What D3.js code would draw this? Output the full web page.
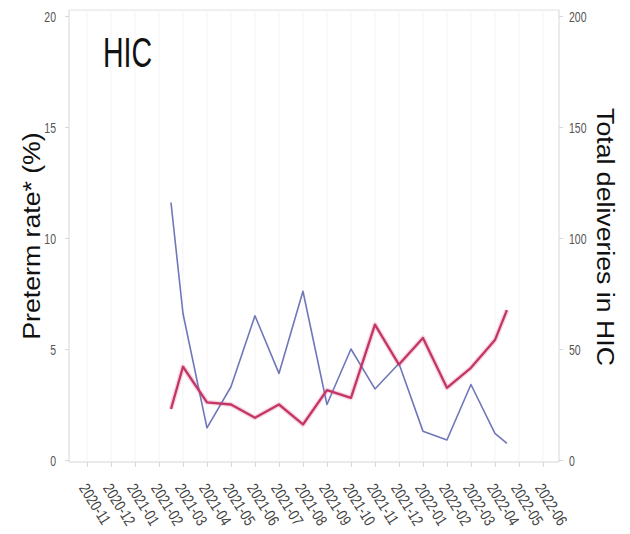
<!DOCTYPE html>
<html><head><meta charset="utf-8">
<script src="https://cdn.jsdelivr.net/npm/d3@7"></script>
<style>body{margin:0;background:#fff}svg{display:block}</style>
</head><body>
<script>
const months = ["2020-11","2020-12","2021-01","2021-02","2021-03","2021-04","2021-05","2021-06","2021-07","2021-08","2021-09","2021-10","2021-11","2021-12","2022-01","2022-02","2022-03","2022-04","2022-05","2022-06"];
// positions in month-index units (first/last points fall half-way between months)
const pointPos = [3.5,4,5,6,7,8,9,10,11,12,13,14,15,16,17,17.5];
const pretermRate = [2.3,4.2,2.6,2.5,1.9,2.5,1.6,3.15,2.8,6.1,4.3,5.5,3.25,4.15,5.4,6.75];
const deliveries = [116,66,14.5,33,65,39,76,25,50,32,43.5,13,9,34,12,7.5];
const leftTicks = [0,5,10,15,20];
const rightTicks = [0,50,100,150,200];

const W=630,H=534;
const svg=d3.select("body").append("svg").attr("width",W).attr("height",H);
const L=69,R=559,T=10,B=462;
const x=d3.scaleLinear().domain([-0.75,19.67]).range([L,R]);
const yL=d3.scaleLinear().domain([0,20]).range([460,16]);
const yR=d3.scaleLinear().domain([0,200]).range([460,16]);

const faint="#d6d6dc";
const font="'Liberation Sans',Arial,sans-serif";
// faint vertical guides
svg.append("g").selectAll("line").data(months).join("line")
  .attr("x1",(d,i)=>x(i)).attr("x2",(d,i)=>x(i)).attr("y1",T).attr("y2",B)
  .attr("stroke","#f4f4f8").attr("stroke-width",1);

// frame
svg.append("line").attr("x1",L).attr("x2",R).attr("y1",T).attr("y2",T).attr("stroke","#e2e2e2");
svg.append("line").attr("x1",L).attr("x2",L).attr("y1",T).attr("y2",B).attr("stroke",faint);
svg.append("line").attr("x1",R).attr("x2",R).attr("y1",T).attr("y2",B).attr("stroke",faint);
svg.append("line").attr("x1",L).attr("x2",R).attr("y1",B).attr("y2",B).attr("stroke",faint);

// left axis
const gl=svg.append("g").attr("transform",`translate(${L},0)`)
  .call(d3.axisLeft(yL).tickValues(leftTicks).tickSize(4));
gl.select(".domain").remove();
gl.selectAll(".tick line").attr("stroke",faint);
gl.selectAll("text").attr("fill","#555").style("font-family",font).style("font-size","15px")
  .attr("x",0).attr("dy","0.36em").attr("transform","translate(-13,0) scale(0.7,1)");
// right axis
const gr=svg.append("g").attr("transform",`translate(${R},0)`)
  .call(d3.axisRight(yR).tickValues(rightTicks).tickSize(4));
gr.select(".domain").remove();
gr.selectAll(".tick line").attr("stroke",faint);
gr.selectAll("text").attr("fill","#555").style("font-family",font).style("font-size","15px")
  .attr("x",0).attr("dy","0.36em").attr("transform","translate(10,0) scale(0.7,1)");
// bottom axis
const gb=svg.append("g").attr("transform",`translate(0,${B})`)
  .call(d3.axisBottom(x).tickValues(d3.range(months.length)).tickFormat(i=>months[i]).tickSize(5));
gb.select(".domain").remove();
gb.selectAll(".tick line").attr("stroke",faint);
gb.selectAll("text").attr("fill","#444").style("font-family",font).style("font-size","16px")
  .attr("text-anchor","start").attr("x",0).attr("y",0).attr("dy","0")
  .attr("transform","translate(-9,26) rotate(58) scale(0.78,1)");

// lines
const lineR=d3.line().x((d,i)=>x(pointPos[i])).y(d=>yL(d));
const lineB=d3.line().x((d,i)=>x(pointPos[i])).y(d=>yR(d));
svg.append("path").datum(pretermRate).attr("d",lineR).attr("fill","none")
  .attr("stroke","#eaa6bf").attr("stroke-width",5).attr("stroke-opacity",0.45).attr("stroke-linejoin","round");
svg.append("path").datum(deliveries).attr("d",lineB).attr("fill","none")
  .attr("stroke","#7077b9").attr("stroke-width",1.6).attr("stroke-linejoin","round");
svg.append("path").datum(pretermRate).attr("d",lineR).attr("fill","none")
  .attr("stroke","#c43565").attr("stroke-width",2.3).attr("stroke-linejoin","round");

// titles
svg.append("text").attr("transform","translate(103,67) scale(0.68,1)").text("HIC")
  .style("font-family",font).style("font-size","42px").attr("fill","#111");
svg.append("text").attr("transform","translate(40,236) rotate(-90) scale(1.16,1)").attr("text-anchor","middle")
  .text("Preterm rate* (%)").style("font-family",font).style("font-size","23px").attr("fill","#111");
svg.append("text").attr("transform","translate(597,237) rotate(90) scale(1.16,1)").attr("text-anchor","middle")
  .text("Total deliveries in HIC").style("font-family",font).style("font-size","23px").attr("fill","#111");
</script>
</body></html>
